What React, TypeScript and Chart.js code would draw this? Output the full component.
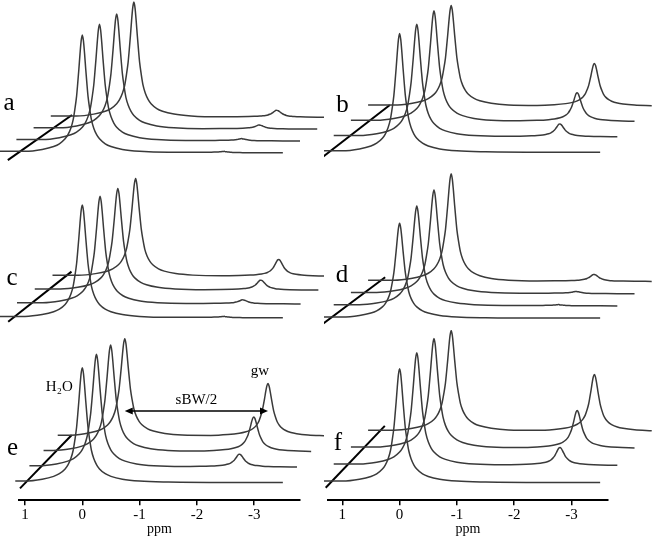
import React, { useEffect, useRef } from "react";
import { Chart, registerables } from "chart.js";
Chart.register(...registerables);

// ---------------- data ----------------
const panelNames = ["a", "b", "c", "d", "e", "f"];

// resonance positions relative to water (ppm)
const waterShift = 0;
const gwShift = -2.5;

// water peak heights (a.u.), traces front -> back
const waterA = [118, 117, 115.5, 115.5];
const waterB = [119, 113, 111, 101];
const waterC = [113, 108, 102, 98];
const waterD = [95, 100, 104, 108];
const waterE = [115, 113, 107, 98];
const waterF = [114, 113, 110, 101];

// gw peak heights (a.u.), traces front -> back
const gwA = [1, 2, 4, 7];
const gwB = [0, 13, 29, 43];
const gwC = [1, 4, 10, 17];
const gwD = [0, 1, 2, 7];
const gwE = [0, 13, 35, 53];
const gwF = [0, 18, 38, 57];

const waterHeights = [waterA, waterB, waterC, waterD, waterE, waterF];
const gwHeights = [gwA, gwB, gwC, gwD, gwE, gwF];

// spectral window of each trace (ppm)
const specStart = [1.45, 1.45, 1.45, 1.45, 1.17, 1.45];
const specEnd = [-3.5, -3.5, -3.5, -3.5, -3.5, -3.5];

// stacked-plot offsets between successive traces
const stackShiftPPM = [0.3, 0.3, 0.31, 0.3, 0.247, 0.3];
const stackShiftY = [11.8, 15.3, 13.8, 12.2, 15.3, 17];

// line shape (relative intensity vs. distance from the line centre, ppm)
const shapeOffsets = [0, 0.02, 0.04, 0.06, 0.08, 0.1, 0.13, 0.16, 0.2, 0.25, 0.3, 0.4, 0.5, 0.7, 1.0, 1.5, 2.5, 5.0];
const shapeValues = [1, 0.95, 0.84, 0.71, 0.59, 0.48, 0.37, 0.28, 0.21, 0.155, 0.12, 0.078, 0.055, 0.03, 0.014, 0.006, 0.002, 0];

// reference diagonal of each stack: ppm at its ends and stack index at its ends
const diagPPM = [[1.12, 1.146], [1.27, 1.1], [1.21, 1.23], [1.2, 1.26], [0.996, 0.955], [1.2, 1.26]];
const diagIdx = [[-0.6, 3.22], [-0.6, 3.1], [-0.27, 3.36], [-0.5, 3.36], [-0.37, 3.12], [-0.3, 3.34]];

// axis ticks (ppm)
const ppmTicks = [1, 0, -1, -2, -3];
const axisTitle = "ppm";

// ---------------- layout / style ----------------
const serif = '"Liberation Serif", "Times New Roman", Times, serif';
const traceColor = "#3a3a3a";
const axisHeight = 38.7;

const layouts = [
  { left: 0, top: 0, w: 324, h: 165, col: 0, axis: false, base: 153, letter: [9, 110] },
  { left: 324, top: 0, w: 330, h: 165, col: 1, axis: false, base: 152.5, letter: [18.5, 111.7] },
  { left: 0, top: 165, w: 324, h: 165, col: 0, axis: false, base: 153, letter: [12, 120] },
  { left: 324, top: 165, w: 330, h: 165, col: 1, axis: false, base: 153.3, letter: [18, 116.7] },
  { left: 0, top: 330, w: 324, h: 209, col: 0, axis: true, base: 152.7, letter: [12.5, 125] },
  { left: 324, top: 330, w: 330, h: 209, col: 1, axis: true, base: 152.7, letter: [14, 120] },
];
const columns = [
  { padL: 19, padR: 24, min: -3.7993, max: 1.1047 },
  { padL: 4, padR: 46, min: -3.637, max: 1.2496 },
];
// annotation levels for panel e (a.u. above the front baseline)
const annotE = { h2oLevel: 91.7, h2oDx: -23, arrowLevel: 71.7, gwLabelGap: 9, gwLabelDx: -8 };

function shapeAt(d: number) {
  const a = Math.abs(d);
  let v = 0;
  for (let i = 0; i < shapeOffsets.length; i++) {
    if (shapeOffsets[i] <= a + 1e-9) v = shapeValues[i];
  }
  return v;
}

function buildTrace(p: number, k: number) {
  const dx = stackShiftPPM[p] * k;
  const dy = stackShiftY[p] * k;
  const wh = waterHeights[p][k];
  const gh = gwHeights[p][k];
  const start = specStart[p];
  const end = specEnd[p];
  const set = new Map<string, number>();
  const add = (v: number) => {
    if (v <= start + 1e-9 && v >= end - 1e-9) set.set(v.toFixed(4), v);
  };
  add(start);
  add(end);
  shapeOffsets.forEach((o) => {
    add(waterShift + o);
    add(waterShift - o);
    if (gh > 0 && o <= 1.0) {
      add(gwShift + o);
      add(gwShift - o);
    }
  });
  const xs = Array.from(set.values()).sort((a, b) => b - a);
  return xs.map((ppm) => ({
    x: ppm - dx,
    y: dy + wh * shapeAt(ppm - waterShift) + gh * shapeAt(ppm - gwShift),
  }));
}

function drawArrow(ctx: CanvasRenderingContext2D, x1: number, x2: number, y: number) {
  const head = 8;
  const hw = 3.5;
  ctx.beginPath();
  ctx.moveTo(x1 + head - 1, y);
  ctx.lineTo(x2 - head + 1, y);
  ctx.lineWidth = 1.5;
  ctx.strokeStyle = "#000";
  ctx.stroke();
  ctx.beginPath();
  ctx.moveTo(x1, y);
  ctx.lineTo(x1 + head, y - hw);
  ctx.lineTo(x1 + head, y + hw);
  ctx.closePath();
  ctx.moveTo(x2, y);
  ctx.lineTo(x2 - head, y - hw);
  ctx.lineTo(x2 - head, y + hw);
  ctx.closePath();
  ctx.fillStyle = "#000";
  ctx.fill();
}

function Panel({ index }: { index: number }) {
  const ref = useRef<HTMLCanvasElement>(null);
  const L = layouts[index];
  useEffect(() => {
    if (!ref.current) return;
    const col = columns[L.col];
    const chartBottom = L.h - (L.axis ? axisHeight : 0);
    const dx = stackShiftPPM[index];
    const dy = stackShiftY[index];

    const datasets: any[] = waterHeights[index].map((_, k) => ({
      label: "trace " + (k + 1),
      data: buildTrace(index, k),
      showLine: true,
      borderColor: traceColor,
      borderWidth: 1.5,
      pointRadius: 0,
      cubicInterpolationMode: "monotone",
      clip: false,
    }));
    const [p0, p1] = diagPPM[index];
    const [i0, i1] = diagIdx[index];
    datasets.push({
      label: "diagonal",
      data: [
        { x: p0 - i0 * dx, y: i0 * dy },
        { x: p1 - i1 * dx, y: i1 * dy },
      ],
      showLine: true,
      borderColor: "#000",
      borderWidth: 2,
      pointRadius: 0,
      clip: false,
    });

    const annotPlugin = {
      id: "annot" + index,
      afterDatasetsDraw(chart: any) {
        const ctx: CanvasRenderingContext2D = chart.ctx;
        const xs = chart.scales.x;
        const ys = chart.scales.y;
        ctx.save();
        ctx.fillStyle = "#000";
        ctx.textAlign = "center";
        ctx.textBaseline = "alphabetic";
        ctx.font = `25px ${serif}`;
        ctx.fillText(panelNames[index], L.letter[0], L.letter[1]);
        if (index === 4) {
          const k = 3;
          const wx = xs.getPixelForValue(waterShift - k * dx);
          const gx = xs.getPixelForValue(gwShift - k * dx);
          const ay = ys.getPixelForValue(annotE.arrowLevel);
          drawArrow(ctx, wx, gx, ay);
          ctx.font = `15px ${serif}`;
          ctx.fillStyle = "#000";
          ctx.fillText("sBW/2", (wx + gx) / 2, ay - 7);
          const gTop = ys.getPixelForValue(k * dy + gwHeights[index][k]);
          ctx.fillText("gw", gx + annotE.gwLabelDx, gTop - annotE.gwLabelGap);
          const w0 = xs.getPixelForValue(waterShift);
          ctx.fillText("H₂O", w0 + annotE.h2oDx, ys.getPixelForValue(annotE.h2oLevel));
        }
        ctx.restore();
      },
    };

    const chart = new Chart(ref.current, {
      type: "scatter",
      data: { datasets },
      options: {
        animation: false,
        responsive: false,
        devicePixelRatio: 1,
        events: [],
        layout: {
          autoPadding: false,
          padding: { left: col.padL, right: col.padR, top: 0, bottom: 0 },
        },
        plugins: { legend: { display: false }, tooltip: { enabled: false } },
        scales: {
          x: {
            type: "linear",
            reverse: true,
            min: col.min,
            max: col.max,
            display: L.axis,
            afterBuildTicks: (s: any) => {
              s.ticks = ppmTicks.map((v) => ({ value: v }));
            },
            afterFit: (s: any) => {
              s.height = L.axis ? axisHeight : 0;
            },
            grid: {
              display: true,
              drawOnChartArea: false,
              drawTicks: true,
              tickLength: 5,
              color: "#000",
              lineWidth: 1.5,
            },
            border: { display: true, color: "#000", width: 2 },
            ticks: {
              color: "#000",
              font: { family: serif, size: 15 },
              padding: 1,
              maxRotation: 0,
              autoSkip: false,
              callback: (v: any) => String(v),
            },
            title: {
              display: true,
              text: axisTitle,
              color: "#000",
              font: { family: serif, size: 14, lineHeight: 1 },
              padding: { top: 0, bottom: 3 },
            },
          },
          y: {
            type: "linear",
            display: false,
            min: -(chartBottom - L.base),
            max: L.base,
          },
        },
      } as any,
      plugins: [annotPlugin],
    });
    return () => chart.destroy();
  }, [index]);
  return (
    <canvas
      ref={ref}
      width={L.w}
      height={L.h}
      style={{ position: "absolute", left: L.left, top: L.top, width: L.w, height: L.h }}
    />
  );
}

export default function App() {
  return (
    <div
      style={{
        position: "absolute",
        left: 0,
        top: 0,
        width: 654,
        height: 539,
        background: "#fff",
        overflow: "hidden",
      }}
    >
      {panelNames.map((n, i) => (
        <Panel key={n} index={i} />
      ))}
    </div>
  );
}
